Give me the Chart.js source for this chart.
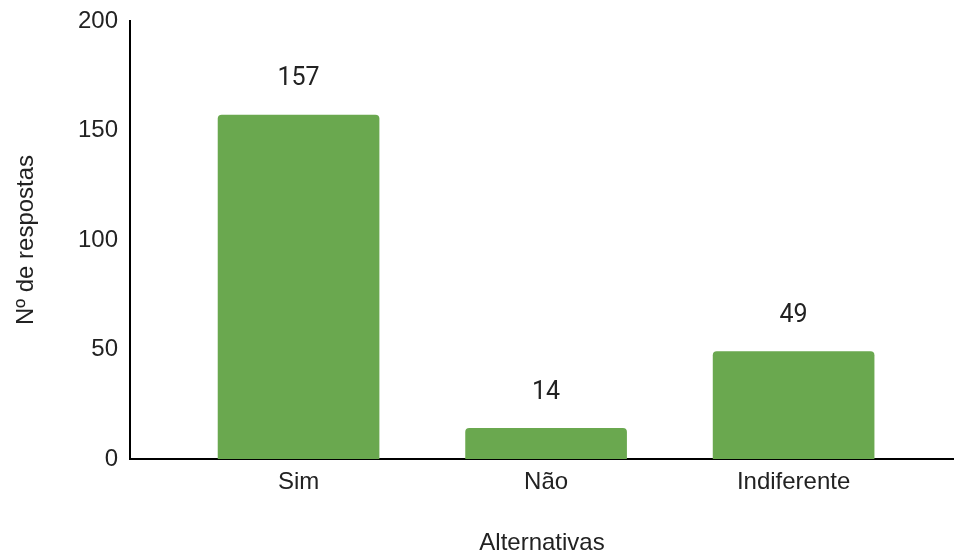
<!DOCTYPE html>
<html lang="pt">
<head>
<meta charset="utf-8">
<title>Nº de respostas por alternativa</title>
<script src="https://cdn.jsdelivr.net/npm/chart.js@4"></script>
<style>
  html, body { margin: 0; padding: 0; background: #fff; }
  #wrap { width: 954px; height: 559px; position: relative; }
</style>
</head>
<body>
<div id="wrap"><canvas id="myChart"></canvas></div>
<script>
const categories = ["Sim", "Não", "Indiferente"];
const respostas = [157, 14, 49];
const yTicks = [0, 50, 100, 150, 200];

const barColor = "#6aa84f";
const textColor = "#222";
const axisFont = { family: "'Liberation Sans', Arial", size: 24 };

// value above each bar
const valueLabels = {
  id: "valueLabels",
  afterDatasetsDraw(chart) {
    const ctx = chart.ctx;
    const meta = chart.getDatasetMeta(0);
    ctx.save();
    ctx.font = "25px Roboto";
    ctx.fillStyle = textColor;
    ctx.textAlign = "center";
    ctx.textBaseline = "middle";
    meta.data.forEach((bar, i) => {
      ctx.fillText(String(respostas[i]), bar.x, bar.y - 36);
    });
    ctx.restore();
  }
};

let chart = new Chart(document.getElementById("myChart"), {
  type: "bar",
  data: {
    datasets: [
      {
        label: "Nº de respostas",
        data: respostas.map((v, i) => ({ x: i, y: v })),
        backgroundColor: barColor,
        barThickness: 161,
        borderRadius: 4,
      },
    ],
  },
  options: {
    responsive: true,
    maintainAspectRatio: false,
    animation: false,
    layout: { padding: { top: 21, right: 0, bottom: 0, left: 0 } },
    plugins: {
      legend: { display: false },
      tooltip: { enabled: false },
    },
    scales: {
      x: {
        type: "linear",
        offset: false,
        min: -0.681,
        max: 2.648,
        grid: { display: false, drawTicks: false },
        border: { display: true, color: "#000", width: 2 },
        afterBuildTicks(scale) {
          scale.ticks = categories.map((c, i) => ({ value: i }));
        },
        ticks: {
          padding: 9,
          color: textColor,
          font: axisFont,
          callback: (v) => categories[v],
        },
        title: {
          display: true,
          text: "Alternativas",
          color: textColor,
          font: axisFont,
          padding: { top: 0, bottom: 1 },
        },
        afterFit(scale) {
          scale.height = 100;
          scale.paddingLeft = 0;
          scale.paddingRight = 0;
        },
      },
      y: {
        min: 0,
        max: 200,
        grid: { display: false, drawTicks: false },
        border: { display: true, color: "#000", width: 2 },
        afterBuildTicks(scale) {
          scale.ticks = yTicks.map((v) => ({ value: v }));
        },
        ticks: {
          padding: 12,
          color: textColor,
          font: axisFont,
        },
        title: {
          display: true,
          text: "Nº de respostas",
          color: textColor,
          font: axisFont,
          padding: { top: 12, bottom: 0 },
        },
        afterFit(scale) {
          scale.width = 130;
          scale.paddingTop = 0;
          scale.paddingBottom = 0;
        },
      },
    },
  },
  plugins: [valueLabels],
});
</script>
</body>
</html>
